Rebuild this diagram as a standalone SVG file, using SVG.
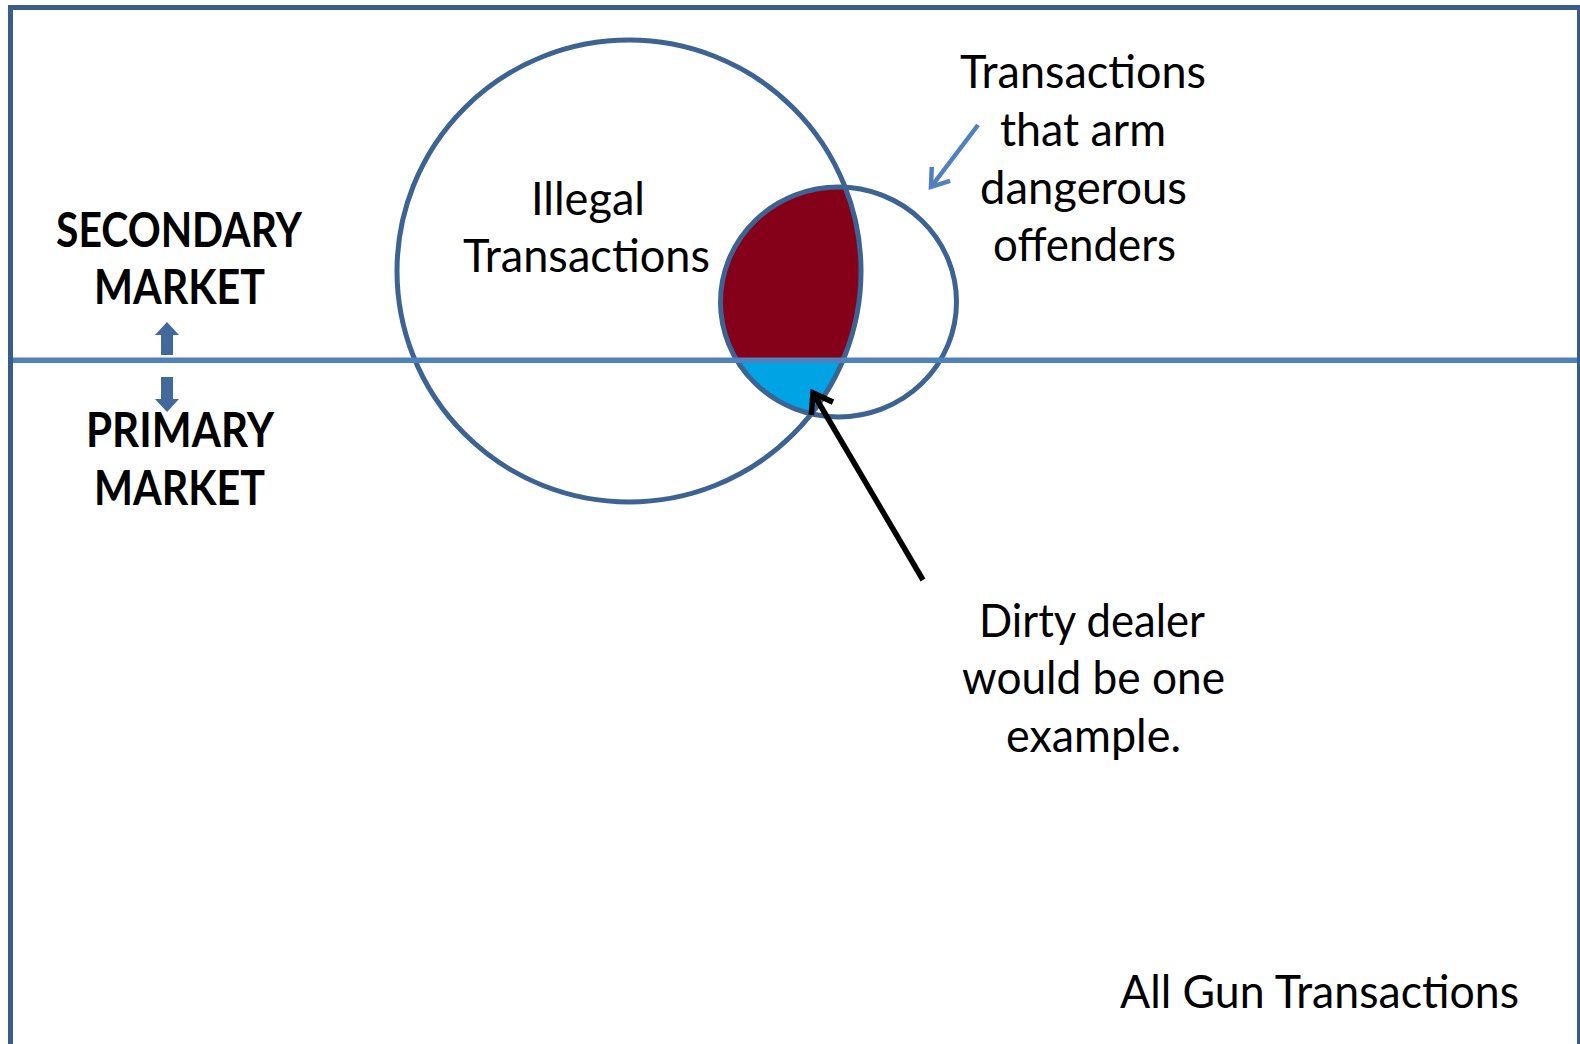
<svg xmlns="http://www.w3.org/2000/svg" width="1580" height="1044" viewBox="0 0 1580 1044">
<style>
.t{font-family:Lato,"Liberation Sans",sans-serif;font-size:47px;fill:#000}
.b{font-family:Lato,"Liberation Sans",sans-serif;font-size:47px;font-weight:bold;fill:#000}
.ring{fill:none;stroke:#3C6392;stroke-width:5}
.frame{fill:#385D8A}
.blk{fill:#41699B}
</style>
<defs>
<clipPath id="bigClip"><ellipse cx="629" cy="271" rx="232" ry="231"/></clipPath>
<clipPath id="topClip"><rect x="0" y="0" width="1580" height="360"/></clipPath>
<clipPath id="botClip"><rect x="0" y="360" width="1580" height="700"/></clipPath>
<marker id="vBlue" markerUnits="userSpaceOnUse" markerWidth="40" markerHeight="40" refX="0" refY="0" orient="auto" overflow="visible">
<path d="M-16.4,-11.5 L0,0 L-16.4,11.5" fill="none" stroke="#4F81BD" stroke-width="4.5"/>
</marker>
<marker id="vBlack" markerUnits="userSpaceOnUse" markerWidth="40" markerHeight="40" refX="0" refY="0" orient="auto" overflow="visible">
<path d="M-18,-12.6 L0,0 L-18,12.6" fill="none" stroke="#000" stroke-width="5.5"/>
</marker>
</defs>
<rect width="1580" height="1044" fill="#fff"/>
<g id="frame">
<rect class="frame" x="8" y="5" width="1572" height="5"/>
<rect class="frame" x="8" y="5" width="5" height="1039"/>
<rect class="frame" x="1577" y="5" width="3" height="1039"/>
</g>
<g id="overlap-fills">
<g clip-path="url(#topClip)"><ellipse cx="838.5" cy="302" rx="117" ry="114" fill="#850019" clip-path="url(#bigClip)"/></g>
<g clip-path="url(#botClip)"><ellipse cx="838.5" cy="302" rx="117" ry="114" fill="#00A3E4" clip-path="url(#bigClip)"/></g>
</g>
<g id="illegal">
<ellipse class="ring" cx="629" cy="271" rx="232" ry="231"/>
<text class="t" x="531" y="215" textLength="114" lengthAdjust="spacingAndGlyphs">Illegal</text>
<text class="t" x="463" y="272" textLength="247" lengthAdjust="spacingAndGlyphs">Transactions</text>
</g>
<g id="dangerous">
<ellipse class="ring" cx="838.5" cy="302" rx="118" ry="115"/>
<text class="t" x="960" y="88" textLength="246" lengthAdjust="spacingAndGlyphs">Transactions</text>
<text class="t" x="1000" y="146" textLength="166" lengthAdjust="spacingAndGlyphs">that arm</text>
<text class="t" x="980" y="204" textLength="207" lengthAdjust="spacingAndGlyphs">dangerous</text>
<text class="t" x="993" y="261" textLength="183" lengthAdjust="spacingAndGlyphs">offenders</text>
</g>
<g id="market-divider">
<rect x="13" y="357.5" width="1564" height="5.5" fill="#4F81BD"/>
<polygon class="blk" points="167,322 179,335 173,335 173,355 161,355 161,335 155,335"/>
<polygon class="blk" points="161,377 173,377 173,399 179,399 167,412 155,399 161,399"/>
<text class="b" x="56" y="247" textLength="246" lengthAdjust="spacingAndGlyphs">SECONDARY</text>
<text class="b" x="94" y="304" textLength="171" lengthAdjust="spacingAndGlyphs">MARKET</text>
<text class="b" x="86" y="447" textLength="188" lengthAdjust="spacingAndGlyphs">PRIMARY</text>
<text class="b" x="94" y="505" textLength="171" lengthAdjust="spacingAndGlyphs">MARKET</text>
</g>
<g id="dirty-dealer">
<text class="t" x="979" y="637" textLength="226" lengthAdjust="spacingAndGlyphs">Dirty dealer</text>
<text class="t" x="962" y="694" textLength="263" lengthAdjust="spacingAndGlyphs">would be one</text>
<text class="t" x="1006" y="752" textLength="175" lengthAdjust="spacingAndGlyphs">example.</text>
</g>
<g id="all-gun">
<text class="t" x="1120" y="1008" textLength="399" lengthAdjust="spacingAndGlyphs">All Gun Transactions</text>
</g>
<g id="connectors">
<line x1="978" y1="125" x2="931" y2="187" stroke="#4F81BD" stroke-width="4.5" marker-end="url(#vBlue)"/>
<line x1="923" y1="580" x2="813" y2="393" stroke="#000" stroke-width="5.5" marker-end="url(#vBlack)"/>
</g>
</svg>
